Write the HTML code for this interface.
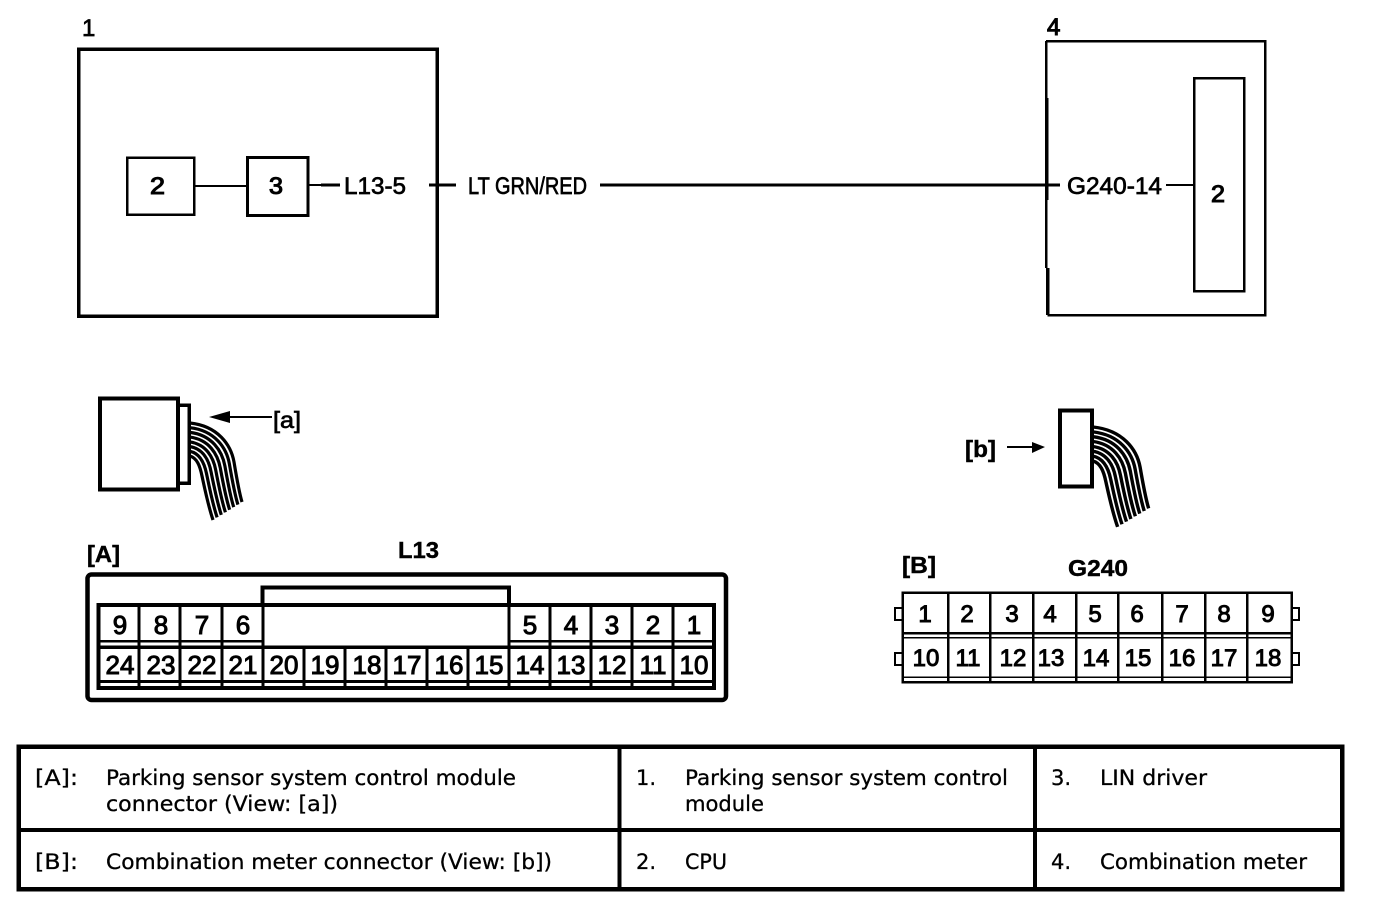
<!DOCTYPE html>
<html>
<head>
<meta charset="utf-8">
<style>
html,body{margin:0;padding:0;background:#fff;width:1376px;height:910px;overflow:hidden}
svg{display:block}
.l{font-family:"Liberation Sans",sans-serif;font-size:24px;fill:#000;stroke:#000;stroke-width:.7}
.h{stroke-width:1.1}
.b{font-family:"Liberation Sans",sans-serif;font-size:23px;font-weight:bold;fill:#000;stroke:#000;stroke-width:.4}
.n{font-family:"Liberation Sans",sans-serif;font-size:26px;fill:#000;stroke:#000;stroke-width:1;text-anchor:middle}
.g{font-family:"Liberation Sans",sans-serif;font-size:24px;fill:#000;stroke:#000;stroke-width:1;text-anchor:middle}
.t{font-family:"DejaVu Sans",sans-serif;font-size:21px;fill:#000;stroke:#000;stroke-width:.3}
.s{fill:none;stroke:#000}
.w path{fill:none;stroke:#000;stroke-width:3.2}
</style>
</head>
<body>
<svg width="1376" height="910" viewBox="0 0 1376 910" xmlns="http://www.w3.org/2000/svg">
<rect width="1376" height="910" fill="#fff"/>

<!-- top diagram -->
<g shape-rendering="crispEdges">
<rect class="s" x="78.5" y="49" width="358.5" height="267" stroke-width="3.5"/>
<rect class="s" x="127" y="157.5" width="67" height="57" stroke-width="2.5"/>
<rect class="s" x="247.5" y="157.5" width="60.5" height="58" stroke-width="3"/>
<path class="s" stroke-width="2" d="M194 186H247M308 185H322"/>
<path class="s" stroke-width="3" d="M321 185H340M429 185H456M600 185H1060"/>
<path class="s" stroke-width="2.5" d="M1046 41H1265V315H1047.500M1046 41V98"/>
<path class="s" stroke-width="3.500" d="M1046.500 98V200M1047.500 268V315"/>
<path class="s" stroke-width="2.500" d="M1046 200V268"/>
<path class="s" stroke-width="2" d="M1166 185H1194"/>
<rect class="s" x="1194" y="78" width="50" height="213" stroke-width="2.5"/>
</g>
<text class="l" x="82" y="36">1</text>
<text class="l h" x="1047" y="35">4</text>
<text class="l h" x="150" y="194" textLength="15" lengthAdjust="spacingAndGlyphs">2</text>
<text class="l h" x="269" y="194" textLength="14" lengthAdjust="spacingAndGlyphs">3</text>
<text class="l" x="344" y="194" textLength="62" lengthAdjust="spacingAndGlyphs">L13-5</text>
<text class="l" x="468" y="194" textLength="119" lengthAdjust="spacingAndGlyphs">LT GRN/RED</text>
<text class="l" x="1067" y="194" textLength="95" lengthAdjust="spacingAndGlyphs">G240-14</text>
<text class="l h" x="1211" y="202" textLength="14" lengthAdjust="spacingAndGlyphs">2</text>

<!-- connector a -->
<g shape-rendering="crispEdges">
<rect class="s" x="100" y="398.5" width="78" height="91" stroke-width="4"/>
<path class="s" stroke-width="3.5" d="M178 405H189V483H178"/>
</g>
<g class="w">
<path d="M190 423C218 426 231 445 234 462C237 480 239 492 242 502"/>
<path d="M190 427.7C215 430.6 226.6 448 229.4 464C232.4 481.4 234.6 493.9 237.9 504.6"/>
<path d="M190 432.4C212 435.1 222.1 451 224.9 466C227.9 482.9 230.1 495.7 233.7 507.1"/>
<path d="M190 437.1C209 439.7 217.7 454 220.3 468C223.3 484.3 225.7 497.6 229.6 509.7"/>
<path d="M190 441.9C206 444.3 213.3 457 215.7 470C218.7 485.7 221.3 499.4 225.4 512.3"/>
<path d="M190 446.6C203 448.9 208.9 460 211.1 472C214.1 487.1 216.9 501.3 221.3 514.9"/>
<path d="M190 451.3C200 453.4 204.4 463 206.6 474C209.6 488.6 212.4 503.1 217.1 517.4"/>
<path d="M190 456C197 458 200 466 202 476C205 490 208 505 213 520"/>
</g>
<path d="M209 417L230 411V423Z" fill="#000"/>
<path class="s" stroke-width="2" d="M228 417H272"/>
<text class="b" x="273" y="428" textLength="28" lengthAdjust="spacingAndGlyphs" style="font-weight:normal;stroke-width:.7">[a]</text>

<!-- connector b -->
<rect class="s" x="1060" y="410.5" width="32" height="76" stroke-width="4" shape-rendering="crispEdges"/>
<g class="w" transform="translate(1093 427) scale(1.07 1.03) translate(-190 -423)">
<path d="M190 423C218 426 231 445 234 462C237 480 239 492 242 502"/>
<path d="M190 427.7C215 430.6 226.6 448 229.4 464C232.4 481.4 234.6 493.9 237.9 504.6"/>
<path d="M190 432.4C212 435.1 222.1 451 224.9 466C227.9 482.9 230.1 495.7 233.7 507.1"/>
<path d="M190 437.1C209 439.7 217.7 454 220.3 468C223.3 484.3 225.7 497.6 229.6 509.7"/>
<path d="M190 441.9C206 444.3 213.3 457 215.7 470C218.7 485.7 221.3 499.4 225.4 512.3"/>
<path d="M190 446.6C203 448.9 208.9 460 211.1 472C214.1 487.1 216.9 501.3 221.3 514.9"/>
<path d="M190 451.3C200 453.4 204.4 463 206.6 474C209.6 488.6 212.4 503.1 217.1 517.4"/>
<path d="M190 456C197 458 200 466 202 476C205 490 208 505 213 520"/>
</g>
<path d="M1045 447L1032 442V453Z" fill="#000"/>
<path class="s" stroke-width="2" d="M1007 447H1034"/>
<text class="b" x="965" y="457" textLength="31" lengthAdjust="spacingAndGlyphs">[b]</text>

<!-- L13 -->
<text class="b" x="87" y="562" textLength="33" lengthAdjust="spacingAndGlyphs">[A]</text>
<text class="b" x="398" y="558" textLength="41" lengthAdjust="spacingAndGlyphs">L13</text>
<g shape-rendering="crispEdges">
<rect class="s" x="87.5" y="574.5" width="638.5" height="125.5" rx="4" stroke-width="4.5" shape-rendering="auto"/>
<path class="s" stroke-width="4" d="M262.5 605V587.5H509V605"/>
<rect class="s" x="98.5" y="605" width="615.5" height="83" stroke-width="4"/>
<path class="s" stroke-width="3" d="M139 606V688M180 606V688M222 606V688M263 606V688M304 646V688M345 646V688M386 646V688M427 646V688M468 646V688M509 606V688M550 606V688M591 606V688M632 606V688M673 606V688"/>
<path class="s" stroke-width="2.5" d="M98 641H263M509 641H714"/>
<path class="s" stroke-width="3.5" d="M98 647H714"/>
<path class="s" stroke-width="3" d="M98 681.5H714"/>
</g>
<g class="n">
<text x="120" y="634">9</text><text x="161" y="634">8</text><text x="202" y="634">7</text><text x="243" y="634">6</text>
<text x="530" y="634">5</text><text x="571" y="634">4</text><text x="612" y="634">3</text><text x="653" y="634">2</text><text x="694" y="634">1</text>
<text x="120" y="674">24</text><text x="161" y="674">23</text><text x="202" y="674">22</text><text x="243" y="674">21</text><text x="284" y="674">20</text>
<text x="325" y="674">19</text><text x="367" y="674">18</text><text x="407" y="674">17</text><text x="449" y="674">16</text><text x="489" y="674">15</text>
<text x="530" y="674">14</text><text x="571" y="674">13</text><text x="612" y="674">12</text><text x="653" y="674">11</text><text x="694" y="674">10</text>
</g>

<!-- G240 -->
<text class="b" x="902" y="573" textLength="34" lengthAdjust="spacingAndGlyphs">[B]</text>
<text class="b" x="1068" y="576" textLength="60" lengthAdjust="spacingAndGlyphs">G240</text>
<g shape-rendering="crispEdges">
<rect class="s" x="902.5" y="592.5" width="389" height="89.5" stroke-width="2.5"/>
<path class="s" stroke-width="2.5" d="M948 592V682M990 592V682M1033 592V682M1076 592V682M1118 592V682M1162 592V682M1205 592V682M1247 592V682"/>
<path class="s" stroke-width="2.5" d="M902 633H1292"/>
<path class="s" stroke-width="1.5" d="M902 637.5H1292M902 677H1292"/>
<path class="s" stroke-width="2" d="M902 608H895V620H902M902 653H895V665H902M1292 608H1299V620H1292M1292 653H1299V665H1292"/>
</g>
<g class="g">
<text x="925" y="622">1</text><text x="967" y="622">2</text><text x="1012" y="622">3</text><text x="1050" y="622">4</text><text x="1095" y="622">5</text><text x="1137" y="622">6</text><text x="1182" y="622">7</text><text x="1224" y="622">8</text><text x="1268" y="622">9</text>
<text x="926" y="666">10</text><text x="968" y="666">11</text><text x="1013" y="666">12</text><text x="1051" y="666">13</text><text x="1096" y="666">14</text><text x="1138" y="666">15</text><text x="1182" y="666">16</text><text x="1224" y="666">17</text><text x="1268" y="666">18</text>
</g>

<!-- legend table -->
<g shape-rendering="crispEdges">
<rect class="s" x="18.5" y="746.5" width="1323.5" height="142.5" stroke-width="4.5"/>
<path class="s" stroke-width="4" d="M18 830H1342M619.5 746V889M1035 746V889"/>
</g>
<text class="t" x="35" y="785" textLength="43" lengthAdjust="spacingAndGlyphs">[A]:</text>
<text class="t" x="106" y="785" textLength="410" lengthAdjust="spacingAndGlyphs">Parking sensor system control module</text>
<text class="t" x="106" y="811" textLength="232" lengthAdjust="spacingAndGlyphs">connector (View: [a])</text>
<text class="t" x="35" y="869" textLength="43" lengthAdjust="spacingAndGlyphs">[B]:</text>
<text class="t" x="106" y="869" textLength="446" lengthAdjust="spacingAndGlyphs">Combination meter connector (View: [b])</text>
<text class="t" x="636" y="785">1.</text>
<text class="t" x="685" y="785" textLength="323" lengthAdjust="spacingAndGlyphs">Parking sensor system control</text>
<text class="t" x="685" y="811" textLength="79" lengthAdjust="spacingAndGlyphs">module</text>
<text class="t" x="636" y="869">2.</text>
<text class="t" x="685" y="869" textLength="42" lengthAdjust="spacingAndGlyphs">CPU</text>
<text class="t" x="1051" y="785">3.</text>
<text class="t" x="1100" y="785" textLength="107" lengthAdjust="spacingAndGlyphs">LIN driver</text>
<text class="t" x="1051" y="869">4.</text>
<text class="t" x="1100" y="869" textLength="207" lengthAdjust="spacingAndGlyphs">Combination meter</text>
</svg>
</body>
</html>
